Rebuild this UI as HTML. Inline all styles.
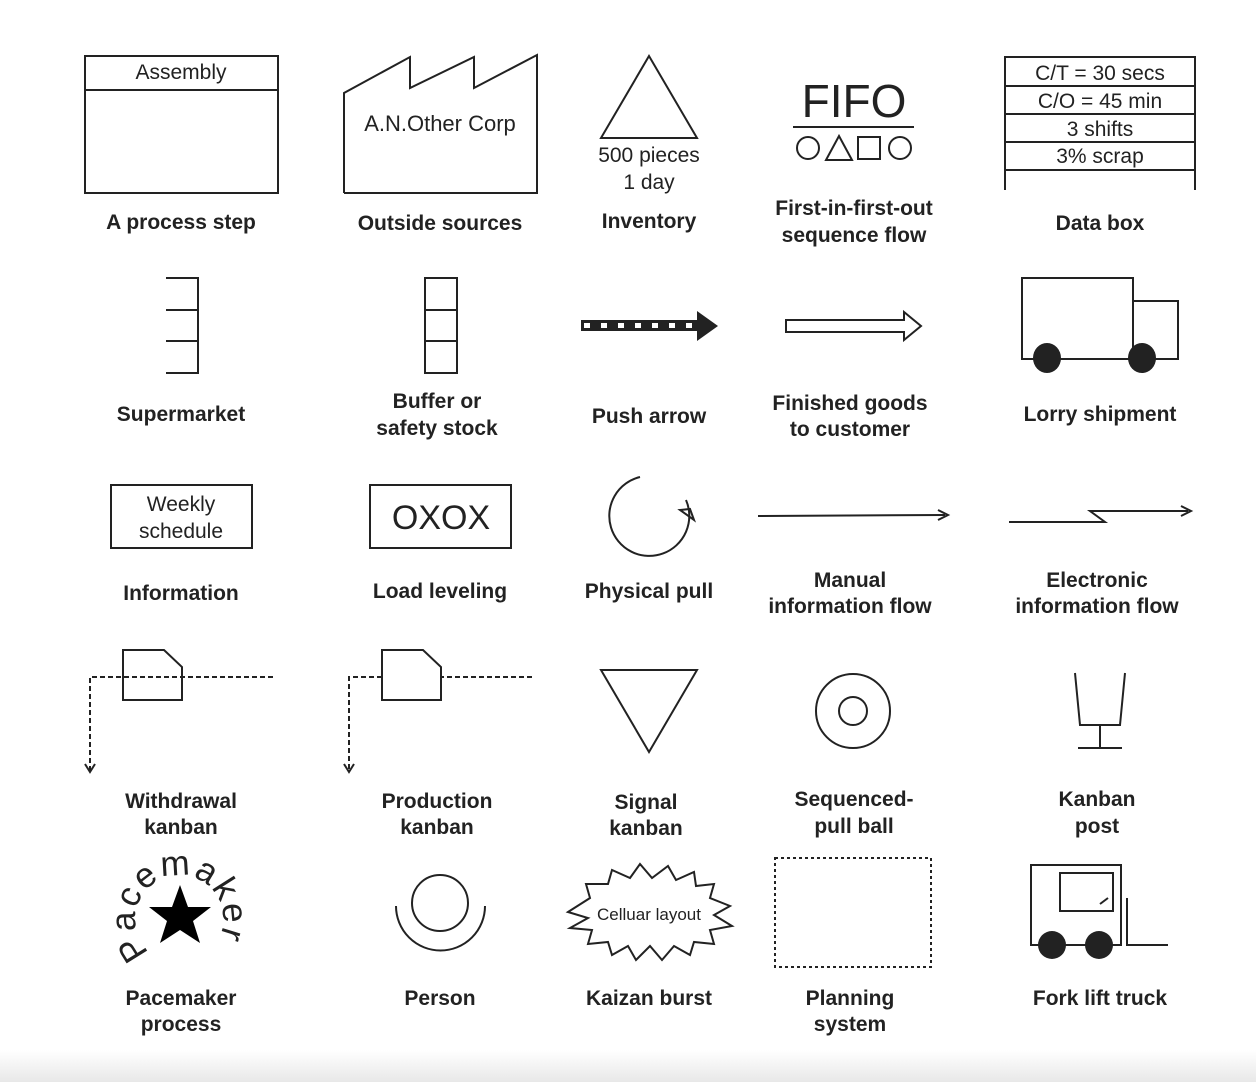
<!DOCTYPE html>
<html><head><style>
body{margin:0;background:#fff}
svg{display:block}
.l{font-family:"Liberation Sans",sans-serif;font-weight:bold;font-size:21px;fill:#222;text-anchor:middle}
.t{font-family:"Liberation Sans",sans-serif;fill:#222;text-anchor:middle}
</style></head><body>
<svg width="1256" height="1082" viewBox="0 0 1256 1082">
<defs><linearGradient id="g" x1="0" y1="0" x2="0" y2="1"><stop offset="0" stop-color="#fff"/><stop offset="1" stop-color="#e8e8e8"/></linearGradient></defs>
<rect x="0" y="1050" width="1256" height="32" fill="url(#g)"/>
<g fill="none" stroke="#222" stroke-width="2">
<rect x="85" y="56" width="193" height="137"/><line x1="85" y1="90" x2="278" y2="90"/>
<polyline points="344,193 344,93 410,57 410,88 474,57 474,88 537,55 537,193 344,193"/>
<polygon points="649,56 697,138 601,138"/>
<line x1="793" y1="127" x2="914" y2="127"/>
<circle cx="808" cy="148" r="11"/><polygon points="839,136 852,160 826,160"/><rect x="858" y="137" width="22" height="22"/><circle cx="900" cy="148" r="11"/>
<polyline points="1005,190 1005,57 1195,57 1195,190"/>
<line x1="1005" y1="86" x2="1195" y2="86"/><line x1="1005" y1="114" x2="1195" y2="114"/><line x1="1005" y1="142" x2="1195" y2="142"/><line x1="1005" y1="170" x2="1195" y2="170"/>
<polyline points="166,278 198,278 198,373 166,373"/><line x1="166" y1="310" x2="198" y2="310"/><line x1="166" y1="341" x2="198" y2="341"/>
<rect x="425" y="278" width="32" height="95"/><line x1="425" y1="310" x2="457" y2="310"/><line x1="425" y1="341" x2="457" y2="341"/>
<polygon points="786,320 904,320 904,312 921,326 904,340 904,332 786,332"/>
<rect x="1022" y="278" width="111" height="81"/><rect x="1133" y="301" width="45" height="58"/>
<rect x="111" y="485" width="141" height="63"/>
<rect x="370" y="485" width="141" height="63"/>
<path d="M 686 500 A 40 40 0 1 1 640 477"/>
<line x1="758" y1="516" x2="945" y2="515"/>
<polyline points="1009,522 1105,522 1090,511 1188,511"/>
<polygon points="123,650 164,650 182,667 182,700 123,700"/>
<polygon points="382,650 423,650 441,667 441,700 382,700"/>
<polygon points="601,670 697,670 649,752"/>
<circle cx="853" cy="711" r="37"/><circle cx="853" cy="711" r="14"/>
<polyline points="1075,673 1080,725 1120,725 1125,673"/><line x1="1100" y1="725" x2="1100" y2="748"/><line x1="1078" y1="748" x2="1122" y2="748"/>
<circle cx="440" cy="903" r="28"/>
<path d="M 396 906 A 44 44 0 0 0 485 906"/>
<rect x="775" y="858" width="156" height="109" stroke-dasharray="3,3"/>
<rect x="1031" y="865" width="90" height="80"/><rect x="1060" y="873" width="53" height="38"/><line x1="1100" y1="904" x2="1108" y2="898"/>
<polyline points="1127,898 1127,945 1168,945"/>
</g>
<g fill="none" stroke="#222" stroke-width="2" stroke-dasharray="5,3">
<polyline points="273,677 90,677 90,770"/>
<polyline points="532,677 441,677"/><polyline points="382,677 349,677 349,770"/>
</g>
<g fill="none" stroke="#222" stroke-width="2">
<polyline points="85,764 90,772 95,764"/><polyline points="344,764 349,772 354,764"/>
<polyline points="938,510 948,515 938,520"/>
<polyline points="1181,506 1191,511 1181,516"/>
</g>
<polygon points="680,510 690,509 694,520" fill="none" stroke="#222" stroke-width="2"/>
<rect x="581" y="320" width="118" height="11" fill="#222"/>
<g fill="#fff"><rect x="584" y="323" width="6" height="5"/><rect x="601" y="323" width="6" height="5"/><rect x="618" y="323" width="6" height="5"/><rect x="635" y="323" width="6" height="5"/><rect x="652" y="323" width="6" height="5"/><rect x="669" y="323" width="6" height="5"/><rect x="686" y="323" width="6" height="5"/></g>
<polygon points="697,311 718,326 697,341" fill="#222"/>
<g fill="#222"><ellipse cx="1047" cy="358" rx="14" ry="15"/><ellipse cx="1142" cy="358" rx="14" ry="15"/>
<circle cx="1052" cy="945" r="14"/><circle cx="1099" cy="945" r="14"/></g>
<polygon points="180,885 188,907 211,907 193,921 200,943 180,930 160,943 167,921 149,907 172,907" fill="#000"/>
<path id="arc" d="M 150 952 A 44 44 0 1 1 200 958" fill="none"/>
<text class="t" font-size="35" letter-spacing="2" style="text-anchor:start"><textPath href="#arc">Pacemaker</textPath></text>
<polygon fill="none" stroke="#222" stroke-width="2" points="
568,912 590,898 586,884 608,884 612,870 630,878 640,864 652,878 668,866 676,880 694,872 696,886 714,884 710,898 730,906 714,915 732,926 710,930 714,944 694,942 690,955 674,946 662,960 650,946 636,960 628,946 612,955 608,942 588,944 592,930 570,928 588,918"/>
<text class="t" x="649" y="920" font-size="17">Celluar layout</text>
<text class="t" x="181" y="79" font-size="21">Assembly</text>
<text class="t" x="440" y="131" font-size="22">A.N.Other Corp</text>
<text class="t" x="649" y="162" font-size="21">500 pieces</text>
<text class="t" x="649" y="189" font-size="21">1 day</text>
<text class="t" x="854" y="117" font-size="46">FIFO</text>
<text class="t" x="1100" y="80" font-size="21">C/T = 30 secs</text>
<text class="t" x="1100" y="108" font-size="21">C/O = 45 min</text>
<text class="t" x="1100" y="136" font-size="21">3 shifts</text>
<text class="t" x="1100" y="163" font-size="21">3% scrap</text>
<text class="t" x="181" y="511" font-size="21">Weekly</text>
<text class="t" x="181" y="538" font-size="21">schedule</text>
<text class="t" x="441" y="529" font-size="34">OXOX</text>
<text class="l" x="181" y="229">A process step</text>
<text class="l" x="440" y="230">Outside sources</text>
<text class="l" x="649" y="228">Inventory</text>
<text class="l" x="854" y="215">First-in-first-out</text>
<text class="l" x="854" y="242">sequence flow</text>
<text class="l" x="1100" y="230">Data box</text>
<text class="l" x="181" y="421">Supermarket</text>
<text class="l" x="437" y="408">Buffer or</text>
<text class="l" x="437" y="435">safety stock</text>
<text class="l" x="649" y="423">Push arrow</text>
<text class="l" x="850" y="410">Finished goods</text>
<text class="l" x="850" y="436">to customer</text>
<text class="l" x="1100" y="421">Lorry shipment</text>
<text class="l" x="181" y="600">Information</text>
<text class="l" x="440" y="598">Load leveling</text>
<text class="l" x="649" y="598">Physical pull</text>
<text class="l" x="850" y="587">Manual</text>
<text class="l" x="850" y="613">information flow</text>
<text class="l" x="1097" y="587">Electronic</text>
<text class="l" x="1097" y="613">information flow</text>
<text class="l" x="181" y="808">Withdrawal</text>
<text class="l" x="181" y="834">kanban</text>
<text class="l" x="437" y="808">Production</text>
<text class="l" x="437" y="834">kanban</text>
<text class="l" x="646" y="809">Signal</text>
<text class="l" x="646" y="835">kanban</text>
<text class="l" x="854" y="806">Sequenced-</text>
<text class="l" x="854" y="833">pull ball</text>
<text class="l" x="1097" y="806">Kanban</text>
<text class="l" x="1097" y="833">post</text>
<text class="l" x="181" y="1005">Pacemaker</text>
<text class="l" x="181" y="1031">process</text>
<text class="l" x="440" y="1005">Person</text>
<text class="l" x="649" y="1005">Kaizan burst</text>
<text class="l" x="850" y="1005">Planning</text>
<text class="l" x="850" y="1031">system</text>
<text class="l" x="1100" y="1005">Fork lift truck</text>
</svg>
</body></html>
